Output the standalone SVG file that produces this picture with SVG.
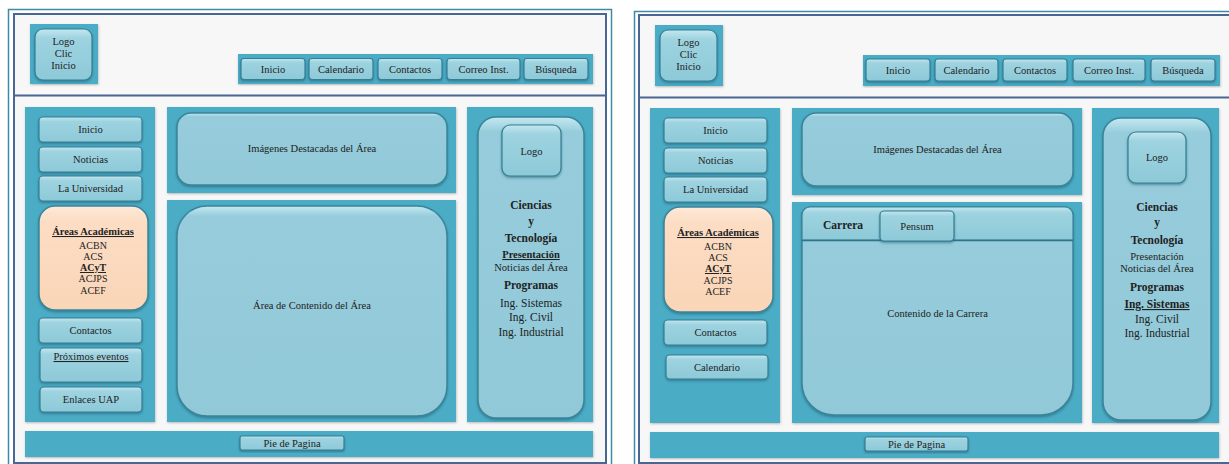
<svg xmlns="http://www.w3.org/2000/svg" width="1229" height="464" viewBox="0 0 1229 464" font-family="'Liberation Serif', 'DejaVu Serif', serif">
<defs>
<linearGradient id="gBtn" x1="0" y1="0" x2="0" y2="1">
<stop offset="0" stop-color="#C4E7EF"/><stop offset="0.18" stop-color="#9ED3E0"/><stop offset="1" stop-color="#8DC9D8"/>
</linearGradient>
<linearGradient id="gBig" x1="0" y1="0" x2="0" y2="1">
<stop offset="0" stop-color="#C4E9F1"/><stop offset="0.05" stop-color="#96CCDB"/><stop offset="1" stop-color="#92C9D8"/>
</linearGradient>
<linearGradient id="gPeach" x1="0" y1="0" x2="0" y2="1">
<stop offset="0" stop-color="#FEE9D8"/><stop offset="0.15" stop-color="#FCDDC4"/><stop offset="1" stop-color="#FAD5B7"/>
</linearGradient>
<filter id="sh" x="-10%" y="-10%" width="120%" height="130%">
<feDropShadow dx="0" dy="1.5" stdDeviation="1" flood-color="#1E5A6A" flood-opacity="0.55"/>
</filter>
<filter id="psh" x="-5%" y="-5%" width="110%" height="110%">
<feDropShadow dx="0.5" dy="1" stdDeviation="0.8" flood-color="#000" flood-opacity="0.25"/>
</filter>
<style>
.teal{fill:#4BACC6;filter:url(#psh)}
.btn{fill:url(#gBtn);stroke:#357F94;stroke-width:1.2;filter:url(#sh)}
.big{fill:url(#gBig);stroke:#3A8599;stroke-width:1.5;filter:url(#sh)}
.peach{fill:url(#gPeach);stroke:#3A8599;stroke-width:1.5;filter:url(#sh)}
.frO{fill:#FFFFFF;stroke:#3C8DA3;stroke-width:1.5}
.frI{fill:#F7F7F7;stroke:#4A6794;stroke-width:2}
.sep{stroke:#4A6794;stroke-width:2}
.t{font-family:'Liberation Serif','DejaVu Serif',serif;font-size:10.5px;fill:#222;text-anchor:middle}
.s{font-size:10px}
.b{font-weight:bold}
.u{text-decoration:underline}
.m{font-size:11.5px}
</style>
</defs>
<rect width="1229" height="464" fill="#FFFFFF"/>

<!-- LEFT MOCKUP -->
<g id="left-frame">
<rect class="frO" x="8.5" y="9.5" width="603" height="456"/>
<rect class="frI" x="14" y="14" width="592" height="449"/>
<line class="sep" x1="14" y1="95.5" x2="606" y2="95.5"/>
</g>
<g id="l-logo">
<rect class="teal" x="30" y="24" width="68" height="60"/>
<rect class="btn" x="35" y="29" width="57" height="51" rx="8"/>
<text class="t" x="63.5" y="45">Logo</text>
<text class="t" x="63.5" y="57">Clic</text>
<text class="t" x="63.5" y="69">Inicio</text>
</g>
<g id="l-nav">
<rect class="teal" x="238" y="54" width="355" height="30"/>
<rect class="btn" x="241" y="58.5" width="64" height="21" rx="3"/><text class="t" x="273" y="73">Inicio</text>
<rect class="btn" x="309" y="58.5" width="64" height="21" rx="3"/><text class="t" x="341" y="73">Calendario</text>
<rect class="btn" x="378" y="58.5" width="64" height="21" rx="3"/><text class="t" x="410" y="73">Contactos</text>
<rect class="btn" x="447" y="58.5" width="73" height="21" rx="3"/><text class="t" x="483.5" y="73">Correo Inst.</text>
<rect class="btn" x="524" y="58.5" width="64" height="21" rx="3"/><text class="t" x="556" y="73">Búsqueda</text>
</g>
<g id="l-sidebar">
<rect class="teal" x="25" y="107" width="130" height="315"/>
<rect class="btn" x="39" y="117" width="103" height="25" rx="4"/><text class="t" x="90.5" y="133">Inicio</text>
<rect class="btn" x="39" y="147" width="103" height="25" rx="4"/><text class="t" x="90.5" y="163">Noticias</text>
<rect class="btn" x="39" y="176" width="103" height="25" rx="4"/><text class="t" x="90.5" y="192">La Universidad</text>
<rect class="peach" x="39" y="206" width="109" height="104" rx="16"/>
<text class="t b u" x="93" y="235">Áreas Académicas</text>
<text class="t s" x="93" y="249">ACBN</text>
<text class="t s" x="93" y="260">ACS</text>
<text class="t s b u" x="93" y="271">ACyT</text>
<text class="t s" x="93" y="282">ACJPS</text>
<text class="t s" x="93" y="294">ACEF</text>
<rect class="btn" x="39" y="318" width="103" height="25" rx="4"/><text class="t" x="90.5" y="334">Contactos</text>
<rect class="btn" x="40" y="348" width="102" height="34" rx="4"/><text class="t u" x="91" y="360">Próximos eventos</text>
<rect class="btn" x="40" y="387" width="102" height="25" rx="4"/><text class="t" x="91" y="403">Enlaces UAP</text>
</g>
<g id="l-images">
<rect class="teal" x="167" y="107" width="289" height="86"/>
<rect class="big" x="177" y="113" width="270" height="72" rx="14"/>
<text class="t" x="312" y="152">Imágenes Destacadas del Área</text>
</g>
<g id="l-content">
<rect class="teal" x="167" y="200" width="289" height="222"/>
<rect class="big" x="177" y="206" width="270" height="210" rx="30"/>
<text class="t" x="312" y="309">Área de Contenido del Área</text>
</g>
<g id="l-right">
<rect class="teal" x="467" y="107" width="126" height="315"/>
<rect class="big" x="478" y="117" width="106" height="301" rx="18"/>
<rect class="btn" x="502" y="125" width="59" height="51" rx="8"/>
<text class="t" x="531.5" y="155">Logo</text>
<text class="t b m" x="531" y="209">Ciencias</text>
<text class="t b m" x="531" y="225">y</text>
<text class="t b m" x="531" y="242">Tecnología</text>
<text class="t b u" x="531" y="258">Presentación</text>
<text class="t" x="531" y="271">Noticias del Área</text>
<text class="t b m" x="531" y="289">Programas</text>
<text class="t m" x="531" y="307">Ing. Sistemas</text>
<text class="t m" x="531" y="321">Ing. Civil</text>
<text class="t m" x="531" y="336">Ing. Industrial</text>
</g>
<g id="l-footer">
<rect class="teal" x="25" y="431" width="568" height="26"/>
<rect class="btn" x="240" y="436" width="104" height="14" rx="2"/>
<text class="t" x="292" y="447">Pie de Pagina</text>
</g>

<!-- RIGHT MOCKUP -->
<g id="right-frame">
<rect class="frO" x="634.5" y="11.5" width="600" height="456"/>
<rect class="frI" x="639" y="15" width="600" height="448"/>
<line class="sep" x1="639" y1="97.5" x2="1229" y2="97.5"/>
</g>
<g id="r-logo">
<rect class="teal" x="655" y="25" width="68" height="61"/>
<rect class="btn" x="660" y="30" width="57" height="51" rx="8"/>
<text class="t" x="688.5" y="46">Logo</text>
<text class="t" x="688.5" y="58">Clic</text>
<text class="t" x="688.5" y="70">Inicio</text>
</g>
<g id="r-nav">
<rect class="teal" x="863" y="55" width="357" height="31"/>
<rect class="btn" x="866" y="59" width="64" height="22" rx="3"/><text class="t" x="898" y="74">Inicio</text>
<rect class="btn" x="935" y="59" width="63" height="22" rx="3"/><text class="t" x="966.5" y="74">Calendario</text>
<rect class="btn" x="1003" y="59" width="64" height="22" rx="3"/><text class="t" x="1035" y="74">Contactos</text>
<rect class="btn" x="1073" y="59" width="72" height="22" rx="3"/><text class="t" x="1109" y="74">Correo Inst.</text>
<rect class="btn" x="1151" y="59" width="64" height="22" rx="3"/><text class="t" x="1183" y="74">Búsqueda</text>
</g>
<g id="r-sidebar">
<rect class="teal" x="650" y="108" width="130" height="315"/>
<rect class="btn" x="664" y="118" width="103" height="25" rx="4"/><text class="t" x="715.5" y="134">Inicio</text>
<rect class="btn" x="664" y="148" width="103" height="25" rx="4"/><text class="t" x="715.5" y="164">Noticias</text>
<rect class="btn" x="664" y="177" width="103" height="25" rx="4"/><text class="t" x="715.5" y="193">La Universidad</text>
<rect class="peach" x="664" y="207" width="109" height="105" rx="16"/>
<text class="t b u" x="718" y="236">Áreas Académicas</text>
<text class="t s" x="718" y="250">ACBN</text>
<text class="t s" x="718" y="261">ACS</text>
<text class="t s b u" x="718" y="272">ACyT</text>
<text class="t s" x="718" y="284">ACJPS</text>
<text class="t s" x="718" y="295">ACEF</text>
<rect class="btn" x="664" y="320" width="103" height="25" rx="4"/><text class="t" x="715.5" y="336">Contactos</text>
<rect class="btn" x="666" y="355" width="102" height="24" rx="4"/><text class="t" x="717" y="371">Calendario</text>
</g>
<g id="r-images">
<rect class="teal" x="792" y="108" width="290" height="87"/>
<rect class="big" x="802" y="113" width="271" height="73" rx="14"/>
<text class="t" x="937.5" y="153">Imágenes Destacadas del Área</text>
</g>
<g id="r-content">
<rect class="teal" x="792" y="202" width="290" height="221"/>
<path class="big" d="M810,207 H1065 A8,8 0 0 1 1073,215 V383 A32,32 0 0 1 1041,415 H834 A32,32 0 0 1 802,383 V215 A8,8 0 0 1 810,207 Z"/>
<path d="M810,207 H1065 A8,8 0 0 1 1073,215 V240 H802 V215 A8,8 0 0 1 810,207 Z" fill="url(#gBtn)" stroke="#3A8599" stroke-width="1.2"/>
<line x1="802" y1="240.5" x2="1073" y2="240.5" stroke="#2F7488" stroke-width="1.5"/>
<text class="t b m" x="843" y="229">Carrera</text>
<rect class="btn" x="880" y="211" width="74" height="30" rx="4"/>
<text class="t" x="917" y="230">Pensum</text>
<text class="t" x="937.5" y="317">Contenido de la Carrera</text>
</g>
<g id="r-right">
<rect class="teal" x="1092" y="108" width="127" height="315"/>
<rect class="big" x="1103" y="118" width="108" height="302" rx="18"/>
<rect class="btn" x="1128" y="132" width="58" height="51" rx="8"/>
<text class="t" x="1157" y="161">Logo</text>
<text class="t b m" x="1157" y="211">Ciencias</text>
<text class="t b m" x="1157" y="226">y</text>
<text class="t b m" x="1157" y="244">Tecnología</text>
<text class="t" x="1157" y="260">Presentación</text>
<text class="t" x="1157" y="272">Noticias del Área</text>
<text class="t b m" x="1157" y="291">Programas</text>
<text class="t b u m" x="1157" y="308">Ing. Sistemas</text>
<text class="t m" x="1157" y="323">Ing. Civil</text>
<text class="t m" x="1157" y="337">Ing. Industrial</text>
</g>
<g id="r-footer">
<rect class="teal" x="650" y="432" width="569" height="26"/>
<rect class="btn" x="865" y="437" width="103" height="14" rx="2"/>
<text class="t" x="916.5" y="448">Pie de Pagina</text>
</g>
</svg>
